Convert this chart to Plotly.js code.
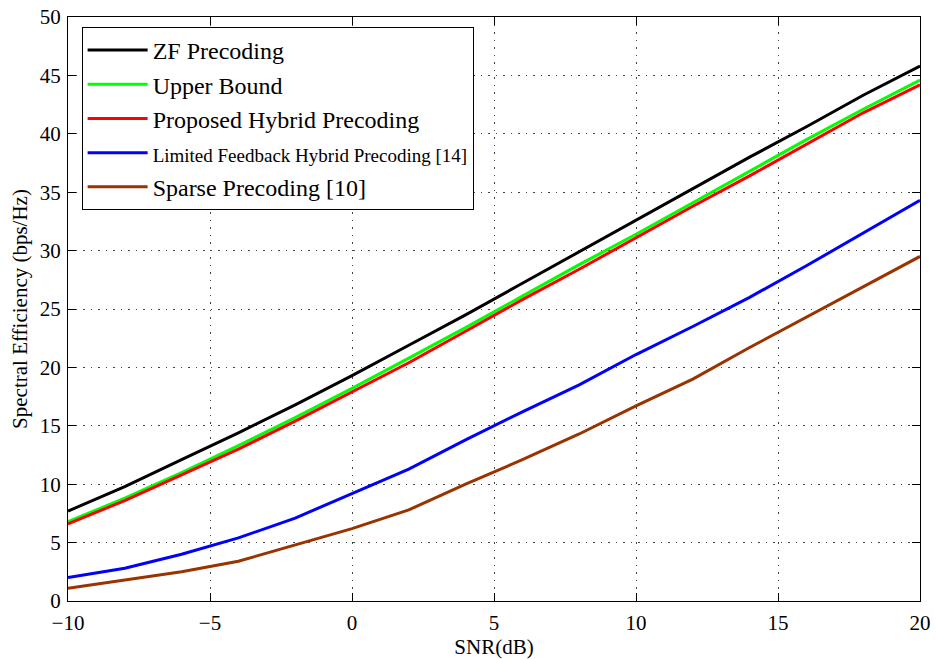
<!DOCTYPE html>
<html>
<head>
<meta charset="utf-8">
<script src="https://cdn.plot.ly/plotly-3.0.1.min.js"></script>
<style>html,body{margin:0;padding:0;background:#fff;}#chart{width:936px;height:659px;}</style>
</head>
<body>
<div id="chart"></div>
<script>
const snr = [-10, -8, -6, -4, -2, 0, 2, 4, 6, 8, 10, 12, 14, 16, 18, 20];
const zfPrecoding = [7.7, 9.8, 12.1, 14.4, 16.8, 19.3, 21.9, 24.5, 27.2, 29.9, 32.6, 35.3, 38.0, 40.6, 43.3, 45.8];
const upperBound = [6.8, 8.8, 11.0, 13.3, 15.7, 18.2, 20.8, 23.4, 26.1, 28.8, 31.4, 34.1, 36.8, 39.5, 42.1, 44.6];
const proposedHybrid = [6.6, 8.6, 10.8, 13.0, 15.4, 17.9, 20.4, 23.1, 25.8, 28.4, 31.1, 33.8, 36.4, 39.1, 41.8, 44.2];
const limitedFeedback = [2.0, 2.8, 4.0, 5.4, 7.1, 9.2, 11.3, 13.8, 16.2, 18.5, 21.1, 23.5, 26.0, 28.7, 31.5, 34.3];
const sparsePrecoding = [1.1, 1.8, 2.5, 3.4, 4.8, 6.2, 7.8, 10.0, 12.1, 14.3, 16.7, 19.0, 21.7, 24.3, 26.9, 29.5];
const seriesNames = ['ZF Precoding', 'Upper Bound', 'Proposed Hybrid Precoding',
  '<span style="font-size:19px">Limited Feedback Hybrid Precoding [14]</span>', 'Sparse Precoding [10]'];
const xTicks = [-10, -5, 0, 5, 10, 15, 20];
const xTickText = ['\u221210', '\u22125', '0', '5', '10', '15', '20'];
const yTicks = [0, 5, 10, 15, 20, 25, 30, 35, 40, 45, 50];

const colors = ['#000000', '#00ff00', '#ff0000', '#0000ff', '#993300'];
const ys = [zfPrecoding, upperBound, proposedHybrid, limitedFeedback, sparsePrecoding];
const traces = ys.map((y, i) => ({
  x: snr, y: y, type: 'scatter', mode: 'lines', name: seriesNames[i],
  line: {color: colors[i], width: 3}
}));

const font = {family: 'Liberation Serif, Times New Roman, serif', color: '#000'};
const axisCommon = {
  showline: true, linecolor: '#000', linewidth: 1, mirror: 'ticks',
  ticks: 'inside', ticklen: 8, tickcolor: '#000', tickwidth: 1,
  showgrid: true, gridcolor: '#444', griddash: '1.5px,6px', gridwidth: 1,
  zeroline: false, tickfont: Object.assign({size: 21}, font)
};
const layout = {
  width: 936, height: 659,
  margin: {l: 68, r: 16, t: 17, b: 58},
  paper_bgcolor: '#fff', plot_bgcolor: '#fff',
  font: font,
  showlegend: true,
  xaxis: Object.assign({}, axisCommon, {
    range: [-10, 20], tickvals: xTicks, ticktext: xTickText, ticklabelstandoff: 3,
    title: {text: 'SNR(dB)', font: Object.assign({size: 21}, font), standoff: 0}
  }),
  yaxis: Object.assign({}, axisCommon, {
    range: [0, 50], tickvals: yTicks, ticklabelstandoff: 2,
    title: {text: 'Spectral Efficiency (bps/Hz)', font: Object.assign({size: 21}, font), standoff: 6}
  }),
  legend: {
    x: 0.016, y: 0.983, xanchor: 'left', yanchor: 'top',
    bgcolor: '#fff', bordercolor: '#000', borderwidth: 1,
    font: Object.assign({size: 24}, font),
    tracegroupgap: 0, itemwidth: 60
  }
};
Plotly.newPlot('chart', traces, layout, {displayModeBar: false, staticPlot: true});
</script>
</body>
</html>
